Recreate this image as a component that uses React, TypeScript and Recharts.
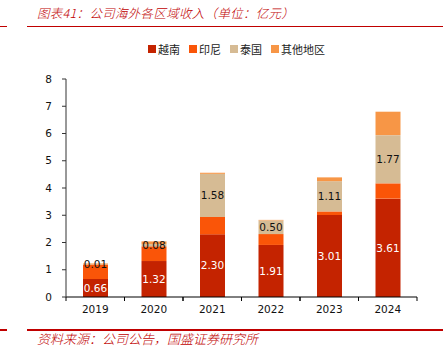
import { BarChart, Bar, XAxis, YAxis, LabelList } from "recharts";

const years = ["2019", "2020", "2021", "2022", "2023", "2024"];
const vietnam = [0.66, 1.32, 2.3, 1.91, 3.01, 3.61];
const indonesia = [0.53, 0.54, 0.64, 0.4, 0.13, 0.56];
const thailand = [0.01, 0.08, 1.58, 0.5, 1.11, 1.77];
const others = [0.03, 0.1, 0.04, 0.02, 0.14, 0.86];
const yTicks = [0, 1, 2, 3, 4, 5, 6, 7, 8];

const series = [
  { key: "vietnam", name: "越南", color: "#C42300" },
  { key: "indonesia", name: "印尼", color: "#FA5508" },
  { key: "thailand", name: "泰国", color: "#D6BB94" },
  { key: "others", name: "其他地区", color: "#F79646" },
];

const data = years.map((year, i) => ({
  year,
  vietnam: vietnam[i],
  indonesia: indonesia[i],
  thailand: thailand[i],
  others: others[i],
}));

const RED = "#C00000";
const NUM_FONT = "'DejaVu Sans', Verdana, sans-serif";
const CJK_FONT = "'Noto Sans CJK SC', sans-serif";

const fmt = (v: any) => Number(v).toFixed(2);

// category label plus small tick marks at the band edges
function YearTick(props: any) {
  const { x, y, payload, width, visibleTicksCount } = props;
  const half = payload && payload.offset ? payload.offset : width / (visibleTicksCount || years.length) / 2;
  const axisY = y - 8;
  return (
    <g>
      <line x1={x - half} x2={x - half} y1={axisY} y2={axisY + 4} stroke="#000" />
      <line x1={x + half} x2={x + half} y1={axisY} y2={axisY + 4} stroke="#000" />
      <text x={x} y={y} dy="0.78em" textAnchor="middle" fontSize={10.5} fontFamily={NUM_FONT} fill="#111">
        {payload.value}
      </text>
    </g>
  );
}

function RedLine({ top }: { top: number }) {
  return (
    <>
      <div style={{ position: "absolute", left: 0, top, width: 7, height: 1.5, background: RED }} />
      <div style={{ position: "absolute", left: 27, top, width: 416, height: 1.5, background: RED }} />
    </>
  );
}

export default function App() {
  return (
    <div style={{ position: "absolute", left: 0, top: 0, width: 443, height: 356, background: "#fff", overflow: "hidden" }}>
      <div
        style={{
          position: "absolute",
          left: 37,
          top: 4,
          fontSize: 12.5,
          letterSpacing: 0.3,
          fontStyle: "italic",
          fontWeight: 300,
          color: RED,
          fontFamily: CJK_FONT,
          whiteSpace: "nowrap",
          lineHeight: "18px",
        }}
      >
        图表41：公司海外各区域收入（单位：亿元）
      </div>
      <RedLine top={25.5} />

      <div
        style={{
          position: "absolute",
          left: 148,
          top: 42,
          display: "flex",
          alignItems: "center",
          fontFamily: CJK_FONT,
          fontSize: 11,
          color: "#222",
          whiteSpace: "nowrap",
          lineHeight: "14px",
        }}
      >
        {series.map((s) => (
          <div key={s.key} style={{ display: "flex", alignItems: "center", marginRight: 9 }}>
            <span style={{ width: 8, height: 8, background: s.color, marginRight: 2, display: "inline-block" }} />
            <span>{s.name}</span>
          </div>
        ))}
      </div>

      <div style={{ position: "absolute", left: 0, top: 35 }}>
        <BarChart width={443} height={290} data={data} margin={{ top: 44, right: 26, left: 0, bottom: 0 }}>
          <XAxis
            dataKey="year"
            height={28}
            tickLine={false}
            tickSize={4}
            tickMargin={4}
            axisLine={{ stroke: "#000" }}
            tick={<YearTick />}
            interval={0}
          />
          <YAxis
            width={66}
            domain={[0, 8]}
            ticks={yTicks}
            interval={0}
            tickSize={4}
            tickMargin={10}
            axisLine={{ stroke: "#333" }}
            tickLine={{ stroke: "#333" }}
            tick={{ fontSize: 10.5, fontFamily: NUM_FONT, fill: "#111" }}
          />
          {series.map((s) => (
            <Bar
              key={s.key}
              dataKey={s.key}
              name={s.name}
              stackId="a"
              fill={s.color}
              barSize={25}
              isAnimationActive={false}
            >
              {s.key === "vietnam" && (
                <LabelList dataKey={s.key} position="center" formatter={fmt} fill="#fff" fontSize={10.5} fontFamily={NUM_FONT} />
              )}
              {s.key === "thailand" && (
                <LabelList dataKey={s.key} position="center" formatter={fmt} fill="#111" fontSize={10.5} fontFamily={NUM_FONT} />
              )}
            </Bar>
          ))}
        </BarChart>
      </div>

      <RedLine top={329} />
      <div
        style={{
          position: "absolute",
          left: 37,
          top: 330,
          fontSize: 13,
          fontStyle: "italic",
          fontWeight: 300,
          color: RED,
          fontFamily: CJK_FONT,
          whiteSpace: "nowrap",
          lineHeight: "18px",
        }}
      >
        资料来源：公司公告，国盛证券研究所
      </div>
    </div>
  );
}
